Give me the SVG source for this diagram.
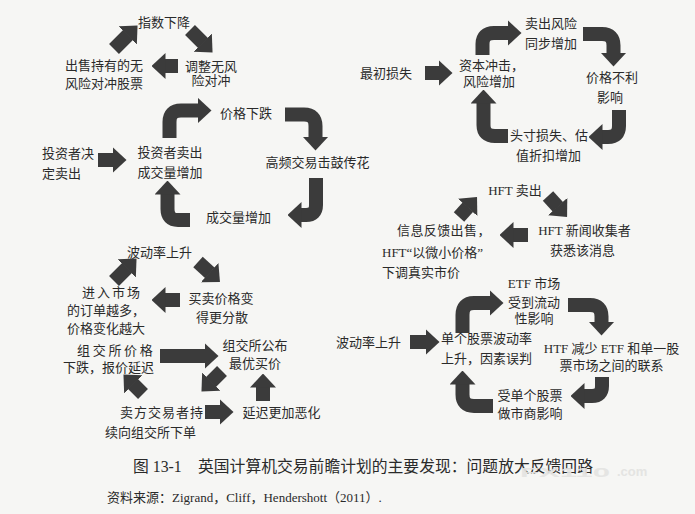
<svg xmlns="http://www.w3.org/2000/svg" width="695" height="514" viewBox="0 0 695 514">
<defs>
<style>
text{font-family:"Liberation Serif","Noto Sans CJK SC",serif;font-size:13px;fill:#2a2a2a}
.m{text-anchor:middle}
.cap{font-size:15.8px}
.src{font-size:13px}
.wm{font-family:"Liberation Sans",sans-serif;font-weight:bold;fill:#e4e4e2}
.c path,.c line{fill:none;stroke:#3b3b3b;stroke-width:14;marker-end:url(#h)}
</style>
<marker id="h" markerUnits="userSpaceOnUse" markerWidth="14" markerHeight="26" viewBox="0 0 14 26" refX="0.5" refY="13" orient="auto"><path d="M0,0 L14,13 L0,26 z" fill="#3b3b3b"/></marker>
</defs>
<rect width="695" height="514" fill="#f6f6f4"/>

<g class="c" id="connectors">
<!-- cycle 1 -->
<line x1="114" y1="49" x2="128" y2="35"/>
<line x1="190" y1="30" x2="203" y2="43"/>
<line x1="178" y1="66" x2="165" y2="66"/>
<!-- cycle 2 -->
<line x1="98" y1="160" x2="113" y2="160"/>
<path d="M169.5,138 V122 Q169.5,110.5 181,110.5 H198"/>
<path d="M285,114.5 H304 Q315.5,114.5 315.5,126 V137"/>
<path d="M316,178 V205 Q316,215 306,215 H301"/>
<path d="M190,220 H178 Q167.5,220 167.5,209 V194"/>
<!-- cycle 3 -->
<line x1="114" y1="281" x2="127" y2="268"/>
<line x1="198" y1="262" x2="210" y2="273"/>
<line x1="180" y1="300" x2="165" y2="300"/>
<line x1="160" y1="356" x2="205" y2="356"/>
<line x1="222" y1="371" x2="211" y2="382"/>
<line x1="263" y1="401" x2="263" y2="387"/>
<line x1="143" y1="394" x2="133" y2="384"/>
<line x1="205" y1="412" x2="220" y2="412"/>
<!-- cycle 4 -->
<line x1="425" y1="73" x2="439" y2="73"/>
<path d="M482.5,55 V44 Q482.5,33 494,33 H508"/>
<path d="M583,34 H602 Q613.5,34 613.5,45.5 V53"/>
<path d="M619,110 V126 Q619,137 608,137 H602"/>
<path d="M508,136 H495 Q483.5,136 483.5,125 V103"/>
<!-- cycle 5 -->
<line x1="459" y1="217" x2="468" y2="207"/>
<line x1="548" y1="196" x2="558" y2="207"/>
<line x1="528" y1="235" x2="513" y2="235"/>
<!-- cycle 6 -->
<line x1="410" y1="342" x2="426" y2="342"/>
<path d="M462.5,333 V315 Q462.5,303 474,303 H490"/>
<path d="M568,305 H590 Q601.5,305 601.5,316.5 V322"/>
<path d="M602,377 V386 Q602,396 592,396 H584"/>
<path d="M493,406 H474 Q462.5,406 462.5,394.5 V384"/>
</g>

<!-- cycle 1 nodes -->
<g id="n-zhishu"><text class="m" x="164" y="27">指数下降</text></g>
<g id="n-tiaozheng"><text class="m" x="211" y="71">调整无风</text><text class="m" x="211" y="85">险对冲</text></g>
<g id="n-chushou"><text class="m" x="104" y="70">出售持有的无</text><text class="m" x="104" y="88">风险对冲股票</text></g>

<!-- cycle 2 nodes -->
<g id="n-juedingmaichu"><text x="42" y="158">投资者决</text><text x="42" y="178">定卖出</text></g>
<g id="n-touzizhe"><text class="m" x="170" y="157">投资者卖出</text><text class="m" x="170" y="177">成交量增加</text></g>
<g id="n-jiagexiadie"><text class="m" x="246" y="118">价格下跌</text></g>
<g id="n-gaopin"><text class="m" x="317.5" y="167">高频交易击鼓传花</text></g>
<g id="n-chengjiaoliang"><text class="m" x="238.5" y="222">成交量增加</text></g>

<!-- cycle 3 nodes -->
<g id="n-bodong1"><text class="m" x="159.5" y="257">波动率上升</text></g>
<g id="n-maimai"><text class="m" x="221" y="303">买卖价格变</text><text class="m" x="222" y="322">得更分散</text></g>
<g id="n-jinru"><text x="82" y="297" letter-spacing="2">进入市场</text><text x="67" y="315">的订单越多，</text><text x="67" y="333">价格变化越大</text></g>
<g id="n-jiaogejiage"><text x="77" y="355" letter-spacing="2.7">组交所价格</text><text x="63" y="372">下跌，报价延迟</text></g>
<g id="n-gongbu"><text class="m" x="255" y="350">组交所公布</text><text class="m" x="255" y="368">最优买价</text></g>
<g id="n-maifang"><text x="120" y="417" letter-spacing="1">卖方交易者持</text><text x="105" y="437">续向组交所下单</text></g>
<g id="n-yanchi"><text class="m" x="281.5" y="417">延迟更加恶化</text></g>

<!-- cycle 4 nodes -->
<g id="n-zuichu"><text class="m" x="386" y="78">最初损失</text></g>
<g id="n-ziben"><text x="459" y="70" font-size="12">资本冲击，</text><text x="463" y="86" font-size="12">风险增加</text></g>
<g id="n-maichufengxian"><text class="m" x="551" y="28">卖出风险</text><text class="m" x="551" y="48">同步增加</text></g>
<g id="n-jiagebuli"><text class="m" x="612" y="82">价格不利</text><text class="m" x="610" y="102">影响</text></g>
<g id="n-toucun"><text class="m" x="549" y="140">头寸损失、估</text><text class="m" x="548.5" y="160">值折扣增加</text></g>

<!-- cycle 5 nodes -->
<g id="n-hftmaichu"><text class="m" x="515" y="195">HFT 卖出</text></g>
<g id="n-hftxinwen"><text class="m" x="584.5" y="235">HFT 新闻收集者</text><text class="m" x="582.5" y="255">获悉该消息</text></g>
<g id="n-xinxi"><text x="397" y="235" letter-spacing="0.4">信息反馈出售，</text><text x="382" y="257">HFT“以微小价格”</text><text x="382" y="277">下调真实市价</text></g>

<!-- cycle 6 nodes -->
<g id="n-bodong2"><text class="m" x="368.5" y="347">波动率上升</text></g>
<g id="n-dange"><text class="m" x="486.5" y="343">单个股票波动率</text><text class="m" x="486.5" y="363">上升，因素误判</text></g>
<g id="n-etf"><text class="m" x="534" y="288">ETF 市场</text><text class="m" x="534" y="307">受到流动</text><text class="m" x="534" y="323">性影响</text></g>
<g id="n-htf"><text class="m" x="611.5" y="353">HTF 减少 ETF 和单一股</text><text class="m" x="611.5" y="370">票市场之间的联系</text></g>
<g id="n-shoudange"><text class="m" x="530" y="400">受单个股票</text><text class="m" x="530" y="418">做市商影响</text></g>

<!-- caption -->
<g id="caption">
<text class="cap" x="133" y="472">图 13-1</text>
<text class="cap" x="198" y="472">英国计算机交易前瞻计划的主要发现：问题放大反馈回路</text>
<text class="src" x="107" y="502">资料来源：Zigrand，Cliff，Hendershott（2011）.</text>
<text class="wm" x="520" y="477" font-size="40" textLength="90" lengthAdjust="spacingAndGlyphs" opacity="0.92">FX110</text>
<text class="wm" x="617" y="476" font-size="20">.com</text>
</g>
</svg>
